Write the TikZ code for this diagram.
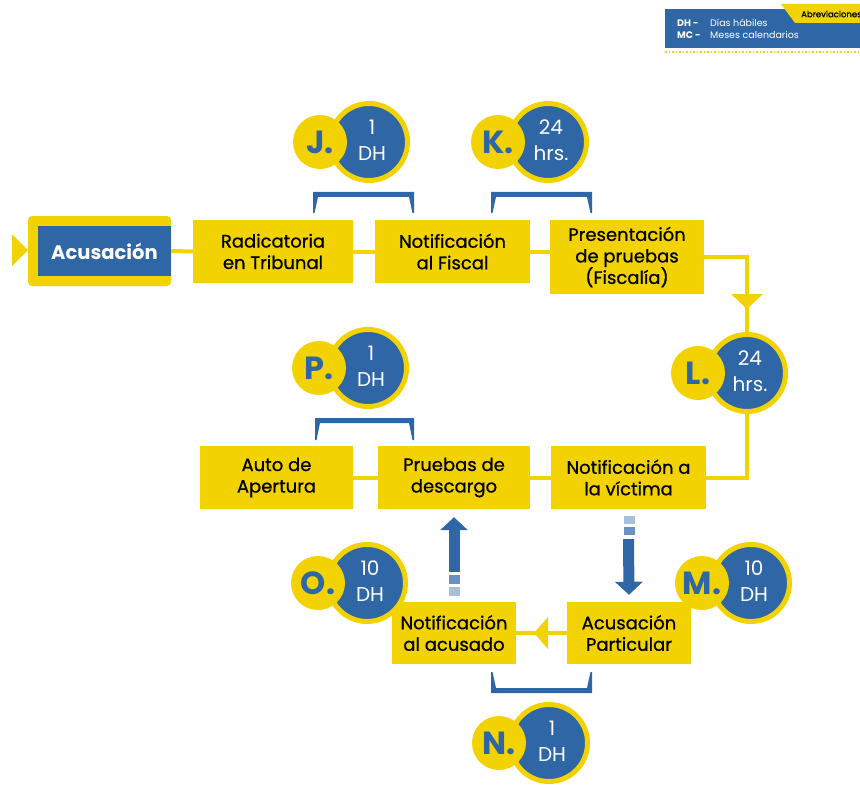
\documentclass[tikz,border=0pt]{standalone}
\usepackage{fontspec}
\setmainfont{Poppins}
\newfontfamily\medio{Poppins}[FakeBold=0.7]
\usetikzlibrary{arrows.meta,backgrounds}
\definecolor{azul}{HTML}{2E66A6}
\definecolor{amarillo}{HTML}{F2D200}
\definecolor{azulclaro}{HTML}{A8BEDC}
\definecolor{azulmedio}{HTML}{6990C4}

\begin{document}
\begin{tikzpicture}[x=1pt, y=-1pt,
		paso/.style = {
			shape=rectangle, fill=amarillo, align=center,
			inner sep=0pt, text=black,
			font=\fontsize{18}{21.5}\selectfont\medio},
		enlace/.style = {draw=amarillo, line width=4pt},
		circulo/.style = {
			circle, fill=azul, draw=amarillo, line width=5pt,
			minimum size=77pt, inner sep=0pt},
		letra/.style = {
			circle, fill=amarillo, minimum size=54pt, inner sep=0pt,
			text=azul, font=\fontsize{32}{32}\selectfont\bfseries},
		plazo/.style = {align=center, text=white, inner sep=0pt,
			font=\fontsize{20}{26}\selectfont},
		corchete/.style = {fill=azul},
		flecha/.style = {draw=azul, line width=11pt,
			-{Triangle[width=27pt,length=13pt]}},
		abrev/.style = {anchor=west, inner sep=0pt, text=white,
			font=\fontsize{9.5}{9.5}\selectfont}]
	\useasboundingbox (0,0) rectangle (860,789);

	% abreviaciones
	\fill[azul] (665,9) rectangle (860,48);
	\fill[amarillo] (781,4) -- (860,4) -- (860,23) -- (795,23) -- cycle;
	\node[anchor=west, inner sep=0pt, font=\fontsize{8.5}{8.5}\selectfont\medio] (abv) at (801,14) {Abreviaciones};
	\node[abrev, font=\fontsize{9.5}{9.5}\selectfont\bfseries] (dh) at (677,23) {DH -};
	\node[abrev] (dhtxt) at (710,23) {Días hábiles};
	\node[abrev, font=\fontsize{9.5}{9.5}\selectfont\bfseries] (mc) at (677,35) {MC -};
	\node[abrev] (mctxt) at (710,35) {Meses calendarios};
	\draw[amarillo, line width=1.5pt, dotted] (665,52) -- (860,52);

	% pasos
	\node[fill=azul, text=white, minimum width=133pt, minimum height=50pt,
		font=\fontsize{19.5}{22}\selectfont\bfseries] (acu) at (104.5,251) {Acusación};
	\node[paso, minimum width=160pt, minimum height=63pt] (radic) at (273,251.5) {Radicatoria\\en Tribunal};
	\node[paso, minimum width=155pt, minimum height=63pt] (notiff) at (452.5,251.5) {Notificación\\al Fiscal};
	\node[paso, minimum width=154pt, minimum height=74pt] (present) at (627,257) {Presentación\\de pruebas\\(Fiscalía)};
	\node[paso, minimum width=153pt, minimum height=63pt] (auto) at (276.5,477.5) {Auto de\\Apertura};
	\node[paso, minimum width=152pt, minimum height=63pt] (pruebas) at (454,477.5) {Pruebas de\\descargo};
	\node[paso, minimum width=155pt, minimum height=63pt] (notifv) at (628.5,477.5) {Notificación a\\la víctima};
	\node[paso, minimum width=124pt, minimum height=62pt] (notifa) at (454,633) {Notificación\\al acusado};
	\node[paso, minimum width=124pt, minimum height=62pt] (acusp) at (629,633) {Acusación\\Particular};

	% plazos
	\node[circulo] (J) at (369,142) {};
	\node[letra] (Jl) at (320,142) {J.};
	\node[plazo] (Jt) at (372,140) {1\\DH};
	\node[circulo] (K) at (548,142) {};
	\node[letra] (Kl) at (498,142) {K.};
	\node[plazo] (Kt) at (551,140) {24\\hrs.};
	\node[circulo] (L) at (747,373) {};
	\node[letra] (Ll) at (698,373) {L.};
	\node[plazo] (Lt) at (750,371) {24\\hrs.};
	\node[circulo] (P) at (368,368) {};
	\node[letra] (Pl) at (319,368) {P.};
	\node[plazo] (Pt) at (371,366) {1\\DH};
	\node[circulo] (M) at (751,583) {};
	\node[letra] (Ml) at (702,583) {M.};
	\node[plazo] (Mt) at (754,581) {10\\DH};
	\node[circulo] (O) at (367,583) {};
	\node[letra] (Ol) at (318,583) {O.};
	\node[plazo] (Ot) at (370,581) {10\\DH};
	\node[circulo] (N) at (549,743) {};
	\node[letra] (Nl) at (499,743) {N.};
	\node[plazo] (Nt) at (552,741) {1\\DH};

	\begin{scope}[on background layer]
		\fill[amarillo, rounded corners=4pt] (28,216) rectangle (171,286);
		\fill[amarillo] (12,234) -- (28,250) -- (12,266) -- cycle;
		\draw[enlace] (acu.east) -- (radic.west);
		\draw[enlace] (radic.east) -- (notiff.west);
		\draw[enlace] (notiff.east) -- (notiff.east -| present.west);
		\draw[enlace] (present.east) -| (L);
		\draw[enlace] (L) |- (notifv.east);
		\draw[enlace] (notifv.west) -- (pruebas.east);
		\draw[enlace] (pruebas.west) -- (auto.east);
		\draw[enlace] (acusp.west) -- (notifa.east);
	\end{scope}
	\fill[amarillo] (731,294) -- (763,294) -- (747,309) -- cycle;
	\fill[amarillo] (548,617) -- (548,649) -- (534,633) -- cycle;

	% corchetes
	\fill[corchete] (313,192) -- (414,192) -- (414,213) -- (412.5,213) -- (409,197) -- (318,197) -- (314.5,213) -- (313,213) -- cycle;
	\fill[corchete] (491,192) -- (592,192) -- (592,213) -- (590.5,213) -- (587,197) -- (496,197) -- (492.5,213) -- (491,213) -- cycle;
	\fill[corchete] (315,418) -- (414,418) -- (414,440) -- (412.5,440) -- (409,423) -- (320,423) -- (316.5,440) -- (315,440) -- cycle;
	\fill[corchete] (491,693) -- (592,693) -- (592,672) -- (590.5,672) -- (587,688) -- (496,688) -- (492.5,672) -- (491,672) -- cycle;

	% flechas azules
	\draw[flecha] ([yshift=30pt]notifa.north) -- ([yshift=-8pt]pruebas.south);
	\fill[azulmedio] (448.5,575) rectangle (459.5,584);
	\fill[azulclaro] (448.5,587) rectangle (459.5,596);
	\draw[flecha] ([yshift=-30pt]notifv.south) -- ([yshift=7pt]acusp.north);
	\fill[azulclaro] (623.5,516) rectangle (634.5,524);
	\fill[azulmedio] (623.5,527) rectangle (634.5,535);
\end{tikzpicture}
\end{document}
